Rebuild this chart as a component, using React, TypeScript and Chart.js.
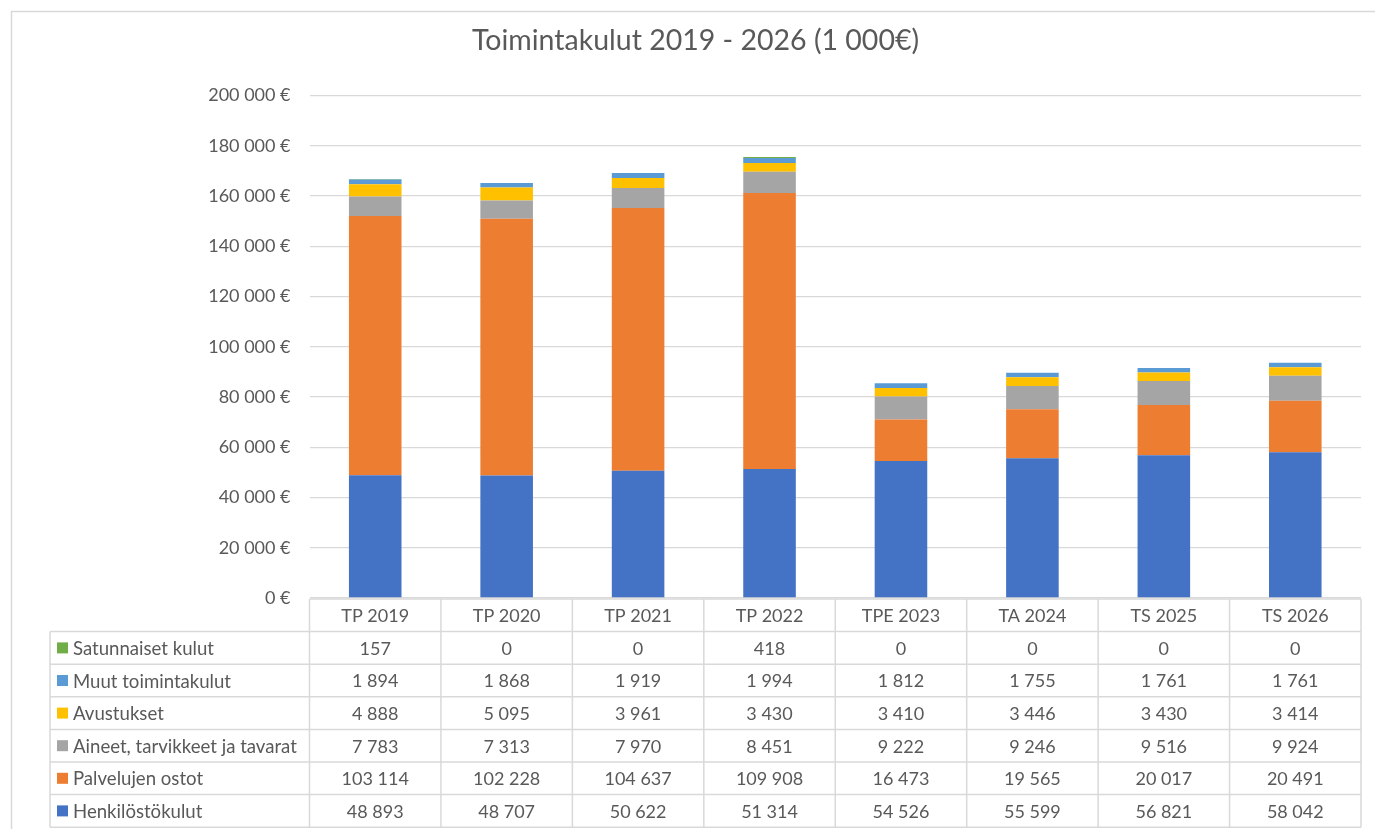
import React, { useEffect, useRef } from "react";
import { Chart, registerables } from "chart.js";

Chart.register(...registerables);

const categories = ["TP 2019", "TP 2020", "TP 2021", "TP 2022", "TPE 2023", "TA 2024", "TS 2025", "TS 2026"];

const henkilostokulut = [48893, 48707, 50622, 51314, 54526, 55599, 56821, 58042];
const palvelujenOstot = [103114, 102228, 104637, 109908, 16473, 19565, 20017, 20491];
const aineet = [7783, 7313, 7970, 8451, 9222, 9246, 9516, 9924];
const avustukset = [4888, 5095, 3961, 3430, 3410, 3446, 3430, 3414];
const muutToimintakulut = [1894, 1868, 1919, 1994, 1812, 1755, 1761, 1761];
const satunnaisetKulut = [157, 0, 0, 418, 0, 0, 0, 0];

const seriesNames = [
  "Henkilöstökulut",
  "Palvelujen ostot",
  "Aineet, tarvikkeet ja tavarat",
  "Avustukset",
  "Muut toimintakulut",
  "Satunnaiset kulut",
];
const seriesValues = [henkilostokulut, palvelujenOstot, aineet, avustukset, muutToimintakulut, satunnaisetKulut];
const seriesColors = ["#4472C4", "#ED7D31", "#A5A5A5", "#FFC000", "#5B9BD5", "#70AD47"];

const titleText = "Toimintakulut 2019 - 2026 (1 000€)";
const yMax = 200000;
const yStep = 20000;

const TEXT = "#595959";
const LINE = "#D9D9D9";
const FONT = "Lato";

function fmt(n: number): string {
  return String(Math.round(n)).replace(/\B(?=(\d{3})+(?!\d))/g, "\u00a0");
}

const framePlugin = {
  id: "frame",
  beforeDraw(chart: any) {
    const ctx = chart.ctx;
    ctx.save();
    ctx.fillStyle = "#ffffff";
    ctx.fillRect(0, 0, chart.width, chart.height);
    ctx.strokeStyle = LINE;
    ctx.lineWidth = 1.5;
    ctx.beginPath();
    ctx.moveTo(11.5, chart.height + 2);
    ctx.lineTo(11.5, 11.5);
    ctx.lineTo(chart.width + 2, 11.5);
    ctx.stroke();
    ctx.restore();
  },
};

const tablePlugin = {
  id: "dataTable",
  afterDraw(chart: any) {
    const ctx = chart.ctx;
    const xs = chart.scales.x;
    const area = chart.chartArea;
    const n = categories.length;
    const step = xs.getPixelForValue(1) - xs.getPixelForValue(0);
    const tableLeft = 50;
    const top = area.bottom + 1;
    const rowH = 32.6;
    const rows = seriesNames.length + 1;
    const bottom = top + rows * rowH;

    ctx.save();
    ctx.strokeStyle = LINE;
    ctx.lineWidth = 1.5;
    ctx.beginPath();
    ctx.moveTo(area.left, top);
    ctx.lineTo(area.right, top);
    for (let r = 1; r <= rows; r++) {
      const y = top + r * rowH;
      ctx.moveTo(tableLeft, y);
      ctx.lineTo(area.right, y);
    }
    ctx.moveTo(tableLeft, top + rowH);
    ctx.lineTo(tableLeft, bottom);
    for (let i = 0; i <= n; i++) {
      const x = xs.getPixelForValue(i) - step / 2;
      ctx.moveTo(x, top);
      ctx.lineTo(x, bottom);
    }
    ctx.stroke();

    ctx.fillStyle = TEXT;
    ctx.textBaseline = "middle";
    ctx.textAlign = "center";
    ctx.font = `18px ${FONT}`;
    categories.forEach((c, i) => {
      ctx.fillText(c, xs.getPixelForValue(i), top + rowH / 2 + 1);
    });
    const order = seriesNames.map((_, i) => seriesNames.length - 1 - i);
    order.forEach((si, r) => {
      const cy = top + (r + 1) * rowH + rowH / 2 + 1;
      ctx.fillStyle = seriesColors[si];
      ctx.fillRect(57, cy - 6.5, 11, 11);
      ctx.fillStyle = TEXT;
      ctx.textAlign = "left";
      ctx.font = `18.6px ${FONT}`;
      ctx.fillText(seriesNames[si], 73, cy);
      ctx.textAlign = "center";
      ctx.font = `18px ${FONT}`;
      seriesValues[si].forEach((v, i) => {
        ctx.fillText(fmt(v), xs.getPixelForValue(i), cy);
      });
    });
    ctx.restore();
  },
};

export default function App() {
  const ref = useRef<HTMLCanvasElement | null>(null);

  useEffect(() => {
    if (!ref.current) return;
    const chart = new Chart(ref.current, {
      type: "bar",
      data: {
        labels: categories,
        datasets: seriesNames.map((name, i) => ({
          label: name,
          data: seriesValues[i],
          backgroundColor: seriesColors[i],
          borderWidth: 0,
          categoryPercentage: 1,
          barPercentage: 0.4,
        })),
      },
      options: {
        animation: false,
        responsive: false,
        devicePixelRatio: 1,
        layout: { padding: { left: 30, right: 14, top: 0, bottom: 231 } },
        plugins: {
          legend: { display: false },
          tooltip: { enabled: false },
          title: {
            display: true,
            text: titleText,
            color: TEXT,
            font: { family: FONT, size: 28.5, weight: "normal" },
            padding: { top: 23.5, bottom: 37.8 },
          },
        },
        scales: {
          x: {
            stacked: true,
            display: false,
          },
          y: {
            stacked: true,
            min: 0,
            max: yMax,
            afterFit: (s: any) => {
              s.width = 279.5;
            },
            border: { display: false },
            grid: { color: LINE, lineWidth: 1.3, drawTicks: false },
            ticks: {
              stepSize: yStep,
              padding: 19,
              color: TEXT,
              font: { family: FONT, size: 18 },
              callback: (v: any) => `${fmt(Number(v))}\u00a0€`,
            },
          },
        },
      },
      plugins: [framePlugin, tablePlugin],
    });
    return () => chart.destroy();
  }, []);

  return (
    <div style={{ position: "fixed", left: 0, top: 0, width: 1375, height: 829 }}>
      <canvas ref={ref} width={1375} height={829} style={{ display: "block" }} />
    </div>
  );
}
